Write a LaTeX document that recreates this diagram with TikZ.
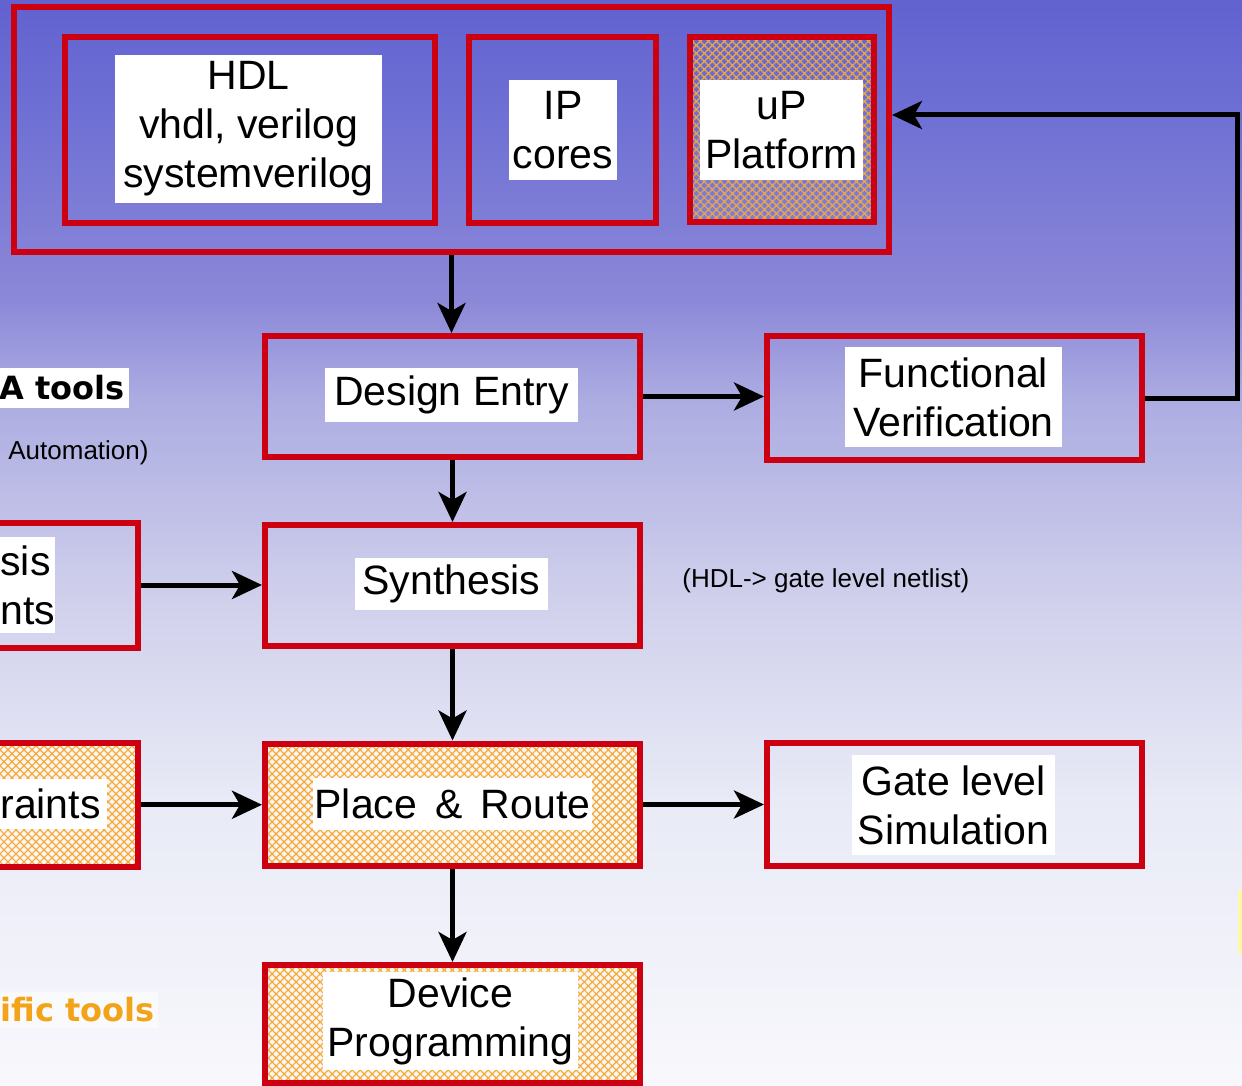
\documentclass[tikz,border=0pt]{standalone}
\usepackage{fontspec}
\setmainfont{Liberation Sans}
\newfontfamily\heavyfont{DejaVu Sans}
\usetikzlibrary{arrows.meta,patterns.meta}
\definecolor{boxred}{RGB}{204,0,17}
\definecolor{hatch}{RGB}{242,170,60}
\definecolor{cream}{RGB}{252,245,238}
\definecolor{toolorange}{RGB}{242,163,24}
\definecolor{paleyellow}{RGB}{255,248,168}
\definecolor{bgA}{RGB}{98,98,208}
\definecolor{bgB}{RGB}{110,112,212}
\definecolor{bgC}{RGB}{140,136,216}
\definecolor{bgD}{RGB}{172,172,226}
\definecolor{bgE}{RGB}{208,208,236}
\definecolor{bgF}{RGB}{232,234,246}
\definecolor{bgG}{RGB}{248,248,252}
\pgfdeclareverticalshading{bgshade}{100bp}{color(0bp)=(bgG); color(25bp)=(bgG); color(38.2bp)=(bgF); color(47.4bp)=(bgE); color(56.6bp)=(bgD); color(61.2bp)=(bgC); color(69.7bp)=(bgB); color(75bp)=(bgA); color(100bp)=(bgA)}
\begin{document}
\begin{tikzpicture}[x=0.5pt,y=-0.5pt,
  box/.style={draw=boxred, line width=3pt, inner sep=0pt},
  hatchonly/.style={
    preaction={pattern={Lines[angle=45,distance=2.83pt,line width=0.6pt]}, pattern color=hatch},
    preaction={pattern={Lines[angle=-45,distance=2.83pt,line width=0.6pt]}, pattern color=hatch}},
  hatched/.style={preaction={fill=cream}, hatchonly},
  lbl/.style={fill=white, inner sep=0pt, align=center, font=\fontsize{20.5pt}{24.5pt}\selectfont},
  arr/.style={draw=black, line width=2.5pt, -{Stealth[length=15pt,width=14pt,inset=4pt]}},
  note/.style={font=\fontsize{13pt}{15pt}\selectfont, inner sep=0pt},
  heavy/.style={font=\heavyfont\bfseries\fontsize{16pt}{18pt}\selectfont, inner xsep=2pt, inner ysep=0pt},
]
\useasboundingbox (0,0) rectangle (1242,1086);
\shade[shading=bgshade] (0,0) rectangle (1242,1086);
\clip (0,0) rectangle (1242,1086);
\fill[paleyellow] (1238,890) rectangle (1242,953);

% top group
\node[box, minimum width=437.5pt, minimum height=122pt] (outer) at (451.5,129.5) {};
\node[box, minimum width=184.75pt, minimum height=92.5pt] (hdl) at (249.75,130) {};
\node[lbl, minimum width=133.5pt, minimum height=74pt] (hdlt) at (248.5,129) {HDL\\vhdl, verilog\\systemverilog};
\node[box, minimum width=93.5pt, minimum height=92.5pt] (ip) at (562.5,130) {};
\node[lbl, minimum width=54pt, minimum height=50pt] (ipt) at (563,130) {IP\\cores};
\node[box, hatchonly, minimum width=92pt, minimum height=92.25pt] (up) at (781.5,129.25) {};
\node[lbl, minimum width=81.5pt, minimum height=50pt] (upt) at (781.5,130) {uP\\Platform};

% main flow
\node[box, minimum width=187.5pt, minimum height=60.5pt] (de) at (452.5,396.5) {};
\node[lbl, minimum width=126.5pt, minimum height=27pt] (det) at (451.5,395) {Design Entry};
\node[box, minimum width=187.5pt, minimum height=62pt] (fv) at (954.5,398) {};
\node[lbl, minimum width=108.5pt, minimum height=50pt] (fvt) at (953.5,397) {Functional\\Verification};
\node[box, minimum width=187.5pt, minimum height=60.5pt] (syn) at (452.5,585.5) {};
\node[lbl, minimum width=96.5pt, minimum height=26pt] (synt) at (451.5,584) {Synthesis};
\node[box, hatched, minimum width=187.5pt, minimum height=61pt] (pr) at (452.5,804.5) {};
\node[lbl, minimum width=139.5pt, minimum height=26pt] (prt) at (452.5,804) {Place \,\&\, Route};
\node[box, minimum width=187.5pt, minimum height=61.5pt] (gl) at (954.5,804.5) {};
\node[lbl, minimum width=101.5pt, minimum height=50pt] (glt) at (953.5,805) {Gate level\\Simulation};
\node[box, hatched, minimum width=187.5pt, minimum height=59pt] (dp) at (452.5,1024) {};
\node[lbl, minimum width=127.5pt, minimum height=49pt] (dpt) at (450.5,1021) {Device\\Programming};

% left partial boxes
\node[box, minimum width=83.75pt, minimum height=62.5pt] (sc) at (53.75,585) {};
\node[lbl, anchor=west, align=left, inner xsep=0pt, minimum height=48pt] (sct) at (0,585) {sis\\nts};
\node[box, hatched, minimum width=83.75pt, minimum height=62.25pt] (pc) at (53.75,804.75) {};
\node[lbl, anchor=west, align=left, inner xsep=0pt, minimum height=25pt] (pct) at (0,804) {raints\rule{3pt}{0pt}};

% side texts
\node[heavy, fill=white, anchor=east, minimum height=20pt] (eda) at (129,388) {A tools};
\node[note, anchor=west] (auto) at (8,453) {Automation)};
\node[note, anchor=west] (netl) at (682,581) {(HDL-> gate level netlist)};
\node[heavy, text=toolorange, fill=white, fill opacity=0.55, text opacity=1, anchor=west, minimum height=18pt, inner xsep=0pt] (vend) at (0,1010) {ific tools\rule{2pt}{0pt}};

% connectors
\coordinate (fbtop) at (1237,115);
\draw[arr] (outer.south) -- (outer.south |- de.north);
\draw[arr] (de.east) -- (de.east -| fv.west);
\draw[arr] (fv.east) -| (fbtop) -- (outer.east |- fbtop);
\draw[arr] (de.south) -- (syn.north);
\draw[arr] (sc.east) -- (sc.east -| syn.west);
\draw[arr] (syn.south) -- (pr.north);
\draw[arr] (pc.east) -- (pc.east -| pr.west);
\draw[arr] (pr.east) -- (pr.east -| gl.west);
\draw[arr] (pr.south) -- (dp.north);
\end{tikzpicture}
\end{document}
